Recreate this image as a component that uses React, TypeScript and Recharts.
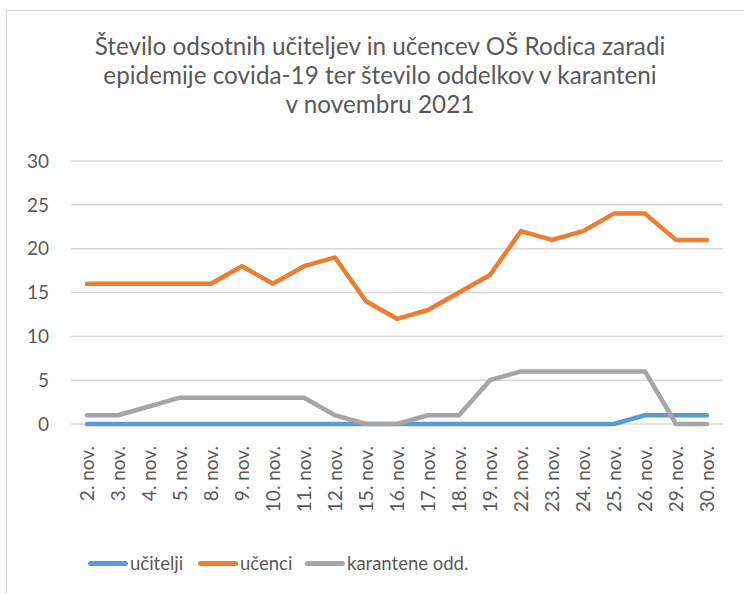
import React from "react";
import { LineChart, Line, XAxis, YAxis, CartesianGrid, Legend } from "recharts";

const DAYS = [
  "2. nov.", "3. nov.", "4. nov.", "5. nov.", "8. nov.", "9. nov.", "10. nov.",
  "11. nov.", "12. nov.", "15. nov.", "16. nov.", "17. nov.", "18. nov.", "19. nov.",
  "22. nov.", "23. nov.", "24. nov.", "25. nov.", "26. nov.", "29. nov.", "30. nov.",
];
const UCITELJI = [0, 0, 0, 0, 0, 0, 0, 0, 0, 0, 0, 0, 0, 0, 0, 0, 0, 0, 1, 1, 1];
const UCENCI = [16, 16, 16, 16, 16, 18, 16, 18, 19, 14, 12, 13, 15, 17, 22, 21, 22, 24, 24, 21, 21];
const KARANTENE = [1, 1, 2, 3, 3, 3, 3, 3, 1, 0, 0, 1, 1, 5, 6, 6, 6, 6, 6, 0, 0];
const Y_TICKS = [0, 5, 10, 15, 20, 25, 30];

const SERIES = [
  { key: "ucitelji", name: "učitelji", color: "#5B9BD5" },
  { key: "ucenci", name: "učenci", color: "#ED7D31" },
  { key: "karantene", name: "karantene odd.", color: "#A5A5A5" },
];

const data = DAYS.map((d, i) => ({
  day: d,
  ucitelji: UCITELJI[i],
  ucenci: UCENCI[i],
  karantene: KARANTENE[i],
}));

const FONT = "Lato, 'Open Sans', sans-serif";
const TEXT = "#595959";
// left edge of each legend entry
const LEGEND_X = [88, 198, 305];

const DayTick = (props: any) => {
  const { x, y, payload } = props;
  return (
    <g transform={`translate(${x},${y})`}>
      <text
        transform="rotate(-90)"
        x={-14}
        y={0}
        dy="0.36em"
        textAnchor="end"
        fill={TEXT}
        fontSize={19}
        fontFamily={FONT}
      >
        {payload.value}
      </text>
    </g>
  );
};

const LegendBox = () => (
  <div style={{ position: "relative", height: 26, fontFamily: FONT }}>
    {SERIES.map((s, i) => (
      <div
        key={s.key}
        style={{ position: "absolute", left: LEGEND_X[i], top: 0, height: 26, display: "flex", alignItems: "center" }}
      >
        <div style={{ width: 40, height: 5, borderRadius: 3, background: s.color }} />
        <span style={{ color: TEXT, fontSize: 18.5, marginLeft: 2 }}>{s.name}</span>
      </div>
    ))}
  </div>
);

export default function App() {
  return (
    <div style={{ position: "absolute", left: 0, top: 0, width: 744, height: 594, background: "#fff" }}>
      <div
        style={{
          position: "absolute",
          left: 6,
          top: 10,
          width: 760,
          height: 600,
          borderTop: "1px solid #D9D9D9",
          borderLeft: "1px solid #D9D9D9",
        }}
      />
      <div
        style={{
          position: "absolute",
          left: 0,
          top: 31,
          width: 760,
          textAlign: "center",
          fontFamily: FONT,
          fontSize: 24.3,
          lineHeight: "29px",
          color: TEXT,
        }}
      >
        Število odsotnih učiteljev in učencev OŠ Rodica zaradi
        <br />
        epidemije covida-19 ter število oddelkov v karanteni
        <br />v novembru 2021
      </div>
      <div style={{ position: "absolute", left: 0, top: 0 }}>
        <LineChart width={744} height={594} data={data} margin={{ top: 161, right: 21, left: 0, bottom: 0 }}>
          <CartesianGrid vertical={false} stroke="#D9D9D9" strokeWidth={1.5} />
          <XAxis
            dataKey="day"
            height={170}
            interval={0}
            padding={{ left: 16, right: 16 }}
            tickLine={false}
            axisLine={false}
            tick={<DayTick />}
          />
          <YAxis
            width={71}
            domain={[0, 30]}
            ticks={Y_TICKS}
            axisLine={false}
            tickLine={false}
            tickSize={0}
            tickMargin={22}
            tick={{ fill: TEXT, fontSize: 19, fontFamily: FONT }}
          />
          <Legend
            verticalAlign="middle"
            align="center"
            content={<LegendBox />}
            wrapperStyle={{ position: "absolute", top: 550, left: 0, width: 744 }}
          />
          {SERIES.map((s) => (
            <Line
              key={s.key}
              type="linear"
              dataKey={s.key}
              name={s.name}
              stroke={s.color}
              strokeWidth={4.5}
              strokeLinecap="round"
              strokeLinejoin="round"
              dot={false}
              activeDot={false}
              isAnimationActive={false}
            />
          ))}
        </LineChart>
      </div>
    </div>
  );
}
